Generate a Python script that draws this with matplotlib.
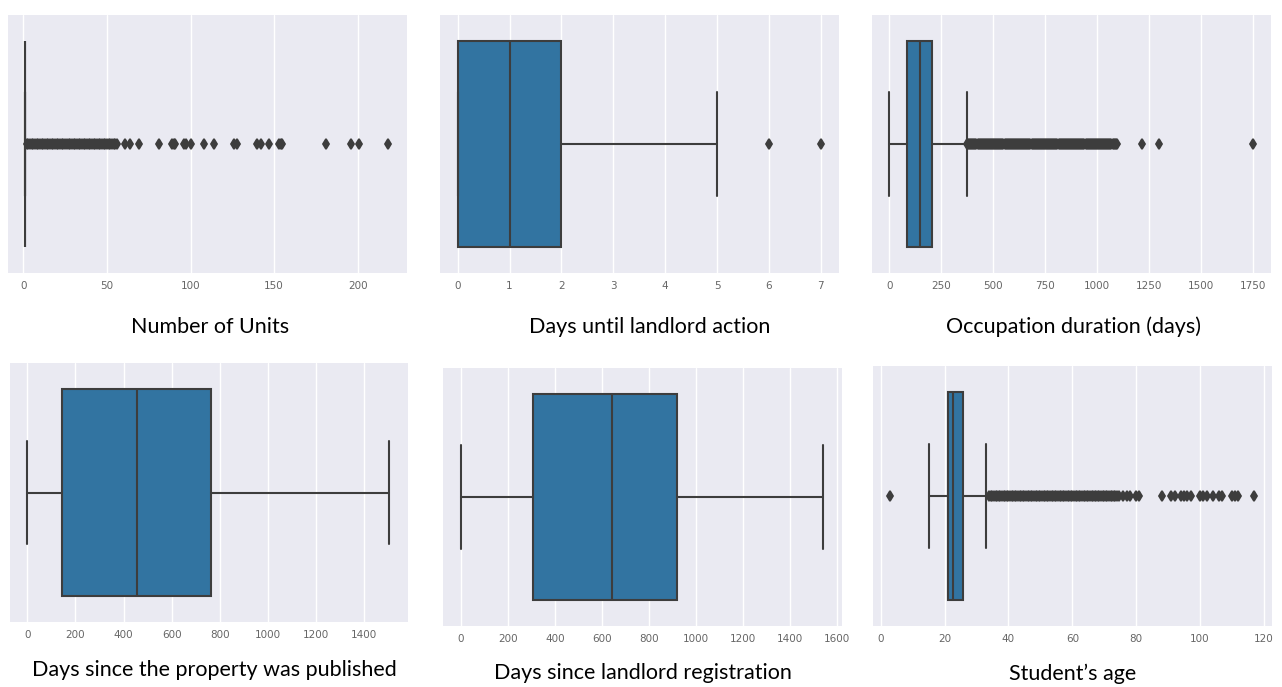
import matplotlib
matplotlib.use("Agg")
import matplotlib.pyplot as plt
import seaborn as sns

sns.set_style("darkgrid")
plt.rcParams['font.family'] = ['DejaVu Sans']

# ---------------- data ----------------
titles = ["Number of Units", "Days until landlord action", "Occupation duration (days)",
          "Days since the property was published", "Days since landlord registration",
          "Student\u2019s age"]

q1 = [1, 0, 84, 145, 306, 21]
median = [1, 1, 148, 454, 641, 22.5]
q3 = [1, 2, 204, 762, 918, 25.8]
whisker_low = [1, 0, 0, 0, 0, 15]
whisker_high = [1, 5, 373, 1503, 1540, 33]

fliers_units = [2, 3, 4, 5, 6, 7, 8, 9, 10, 11, 12, 13, 14, 15, 16, 17, 18, 19, 20,
                21, 22, 23, 24, 25, 26, 27, 28, 29, 30, 31, 32, 33, 34, 35, 36, 37, 38,
                39, 40, 41, 42, 43, 44, 45, 46, 47, 48, 49, 50, 51, 52, 53, 54, 55, 56,
                61, 64, 69, 81, 89, 90, 91, 96, 97, 100, 108, 114, 126, 128, 140, 142,
                147, 153, 154, 155, 181, 196, 201, 218]
fliers_action = [6, 7]
fliers_occupation = [375, 380, 385, 390, 395, 400, 405, 410, 415, 420, 425, 430, 435,
                     440, 445, 450, 455, 460, 465, 470, 475, 480, 485, 490, 495, 500,
                     505, 510, 515, 520, 525, 530, 535, 540, 545, 550, 555, 560, 565,
                     570, 575, 580, 585, 590, 595, 600, 605, 610, 615, 620, 625, 630,
                     635, 640, 645, 650, 655, 660, 665, 670, 675, 680, 685, 690, 695,
                     700, 705, 710, 715, 720, 725, 730, 735, 740, 745, 750, 755, 760,
                     765, 770, 775, 780, 785, 790, 795, 800, 805, 810, 815, 820, 825,
                     830, 835, 840, 845, 850, 855, 860, 865, 870, 875, 880, 885, 890,
                     895, 900, 905, 910, 915, 920, 925, 930, 935, 940, 945, 950, 955,
                     960, 965, 970, 975, 980, 985, 990, 995, 1000, 1005, 1010, 1015,
                     1020, 1025, 1030, 1035, 1040, 1045, 1050, 1055, 1060, 1065, 1070,
                     1075, 1080, 1085, 1090, 1095,
                     1215, 1299, 1752]
fliers_published = []
fliers_registration = []
fliers_age = [3,
              34, 34.5, 35, 35.5, 36, 36.5, 37, 37.5, 38, 38.5, 39, 39.5, 40, 40.5,
              41, 41.5, 42, 42.5, 43, 43.5, 44, 44.5, 45, 45.5, 46, 46.5, 47, 47.5,
              48, 48.5, 49, 49.5, 50, 50.5, 51, 51.5, 52, 52.5, 53, 53.5, 54, 54.5,
              55, 55.5, 56, 56.5, 57, 57.5, 58, 58.5, 59, 59.5, 60, 60.5, 61, 61.5,
              62, 62.5, 63, 63.5, 64, 64.5, 65, 65.5, 66, 66.5, 67, 67.5, 68, 68.5,
              69, 69.5, 70, 70.5, 71, 71.5, 72, 72.5, 73, 73.5, 74, 74.5,
              76, 77, 78, 80, 81, 88, 91, 92, 94, 95, 96, 97, 100, 101, 102, 104,
              106, 107, 110, 111, 112, 117]
fliers = [fliers_units, fliers_action, fliers_occupation, fliers_published,
          fliers_registration, fliers_age]

xticks = [[0, 50, 100, 150, 200],
          [0, 1, 2, 3, 4, 5, 6, 7],
          [0, 250, 500, 750, 1000, 1250, 1500, 1750],
          [0, 200, 400, 600, 800, 1000, 1200, 1400],
          [0, 200, 400, 600, 800, 1000, 1200, 1400, 1600],
          [0, 20, 40, 60, 80, 100, 120]]
xlims = [(-9.2, 229.5), (-0.34, 7.35), (-83, 1838), (-72, 1581), (-75, 1620), (-2.4, 122.5)]

# ---------------- layout (pixels) ----------------
W, H = 1282, 687
axes_px = [(8, 15, 407, 273), (440, 15, 839, 273), (872, 15, 1271, 273),
           (10, 363, 408, 622), (443, 368, 842, 626), (873, 366, 1272, 626)]
title_px = [(210, 327), (650, 327), (1073, 327), (214, 670), (643, 673), (1073, 674)]

box_color = "#3274a1"
line_color = "#3d3d3d"

fig = plt.figure(figsize=(W / 100, H / 100), dpi=100)
fig.patch.set_facecolor("white")

for i in range(6):
    x0, y0, x1, y1 = axes_px[i]
    ax = fig.add_axes([x0 / W, 1 - y1 / H, (x1 - x0) / W, (y1 - y0) / H])
    stats = [dict(med=median[i], q1=q1[i], q3=q3[i], whislo=whisker_low[i],
                  whishi=whisker_high[i], fliers=fliers[i])]
    ax.bxp(stats, positions=[0], widths=0.8, orientation="horizontal",
           patch_artist=True, showfliers=True,
           boxprops=dict(facecolor=box_color, edgecolor=line_color, linewidth=1.5),
           whiskerprops=dict(color=line_color, linewidth=1.5),
           capprops=dict(color=line_color, linewidth=1.5),
           medianprops=dict(color=line_color, linewidth=1.5),
           flierprops=dict(marker="d", markerfacecolor=line_color,
                           markeredgecolor=line_color, markersize=5.5,
                           markeredgewidth=1.3, linestyle="none"))
    ax.set_ylim(0.5, -0.5)
    ax.set_yticks([])
    ax.set_xlim(*xlims[i])
    ax.set_xticks(xticks[i])
    ax.set_xticklabels([str(t) for t in xticks[i]])
    ax.tick_params(axis="x", length=0, pad=6, labelsize=7.5, labelcolor="#666666")
    ax.set_facecolor("#eaeaf2")
    ax.grid(True, axis="x", color="white", linewidth=1.0)
    ax.grid(False, axis="y")
    for s in ax.spines.values():
        s.set_visible(False)
    tx, ty = title_px[i]
    fig.text(tx / W, 1 - ty / H, titles[i], ha="center", va="center",
             fontsize=15.5, family="Lato", color="black")

fig.savefig("out.png", dpi=100)
